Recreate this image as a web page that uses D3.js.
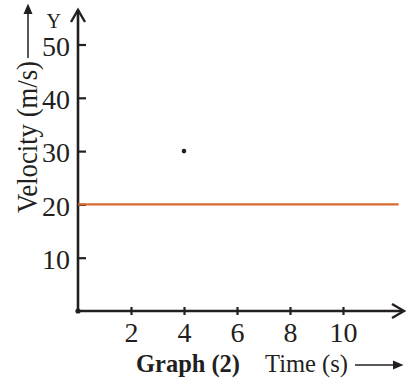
<!DOCTYPE html>
<html><head><meta charset="utf-8">
<script src="https://cdn.jsdelivr.net/npm/d3@7"></script>
<style>html,body{margin:0;padding:0;background:#fff;}svg{display:block;}</style>
</head><body>
<svg id="c" width="410" height="384"></svg>
<script>
const xTicks = [2, 4, 6, 8, 10];
const yTicks = [10, 20, 30, 40, 50];
const lineTimes = [0, 12.1];
const lineVelocity = [20, 20];
const pointTime = [4];
const pointVelocity = [30];

const svg = d3.select("#c");
const ink = "#231f20";
const serif = "'Liberation Serif', 'Times New Roman', serif";
const x = d3.scaleLinear().domain([0, 10]).range([78, 343]);
const y = d3.scaleLinear().domain([0, 50]).range([311, 44.5]);

// axes lines
svg.append("line").attr("x1", x(0)).attr("x2", 403).attr("y1", y(0)).attr("y2", y(0))
  .attr("stroke", ink).attr("stroke-width", 2.6);
svg.append("line").attr("x1", x(0)).attr("x2", x(0)).attr("y1", y(0)).attr("y2", 10)
  .attr("stroke", ink).attr("stroke-width", 2.6);
// arrowheads (open chevrons)
svg.append("path").attr("d", `M${x(0)-7},22 L${x(0)},10 L${x(0)+7},22`)
  .attr("fill", "none").attr("stroke", ink).attr("stroke-width", 2.4);
svg.append("path").attr("d", `M392,${y(0)-7} L404,${y(0)} L392,${y(0)+7}`)
  .attr("fill", "none").attr("stroke", ink).attr("stroke-width", 2.4);

// ticks
const xAxis = d3.axisBottom(x).tickValues(xTicks).tickSize(0).tickPadding(0);
const gx = svg.append("g").attr("transform", `translate(0,${y(0)})`).call(xAxis);
gx.select(".domain").remove();
gx.selectAll(".tick text").attr("font-family", serif).attr("font-size", 28).attr("fill", ink)
  .attr("y", 31).attr("dy", 0);
gx.selectAll(".tick").append("line").attr("y1", -4).attr("y2", 4).attr("stroke", ink).attr("stroke-width", 2.2);

const yAxis = d3.axisLeft(y).tickValues(yTicks).tickSize(0).tickPadding(8);
const gy = svg.append("g").attr("transform", `translate(${x(0)},0)`).call(yAxis);
gy.select(".domain").remove();
gy.selectAll(".tick text").attr("font-family", serif).attr("font-size", 28).attr("fill", ink).attr("dy", "0.38em");
gy.selectAll(".tick").append("line").attr("x1", 0).attr("x2", 8).attr("stroke", ink).attr("stroke-width", 2.2);

// origin dot
svg.append("circle").attr("cx", x(0)).attr("cy", y(0)).attr("r", 2.6).attr("fill", ink);

// data line
const lineData = lineTimes.map((t, i) => [t, lineVelocity[i]]);
svg.append("path").datum(lineData)
  .attr("d", d3.line().x(d => x(d[0])).y(d => y(d[1])))
  .attr("stroke", "#d9692b").attr("stroke-width", 2.4).attr("fill", "none");

// point
svg.selectAll("circle.pt").data(pointTime.map((t, i) => [t, pointVelocity[i]])).enter()
  .append("circle").attr("class", "pt").attr("cx", d => x(d[0])).attr("cy", d => y(d[1]))
  .attr("r", 2.3).attr("fill", ink);

// Y label
svg.append("text").attr("x", 61).attr("y", 28).attr("text-anchor", "end")
  .attr("font-family", serif).attr("font-size", 20).attr("fill", ink).text("Y");
svg.append("text").attr("transform", "translate(37,213) rotate(-90)").attr("text-anchor", "start")
  .attr("font-family", serif).attr("font-size", 29).attr("fill", ink)
  .attr("textLength", 152).attr("lengthAdjust", "spacingAndGlyphs").text("Velocity (m/s)");
svg.append("line").attr("x1", 28).attr("x2", 28).attr("y1", 58).attr("y2", 12)
  .attr("stroke", ink).attr("stroke-width", 1.5);
svg.append("path").attr("d", "M23.5,14 L28,3.5 L32.5,14 Z").attr("fill", ink);

// bottom labels
svg.append("text").attr("x", 136).attr("y", 372).attr("font-family", serif).attr("font-size", 25)
  .attr("font-weight", "bold").attr("fill", ink)
  .attr("textLength", 104).attr("lengthAdjust", "spacingAndGlyphs").text("Graph (2)");
svg.append("text").attr("x", 265).attr("y", 372).attr("font-family", serif).attr("font-size", 25)
  .attr("fill", ink).attr("textLength", 83).attr("lengthAdjust", "spacingAndGlyphs").text("Time (s)");
svg.append("line").attr("x1", 355).attr("x2", 395).attr("y1", 365).attr("y2", 365)
  .attr("stroke", ink).attr("stroke-width", 1.5);
svg.append("path").attr("d", "M393,360.5 L403.5,365 L393,369.5 Z").attr("fill", ink);
</script>
</body></html>
